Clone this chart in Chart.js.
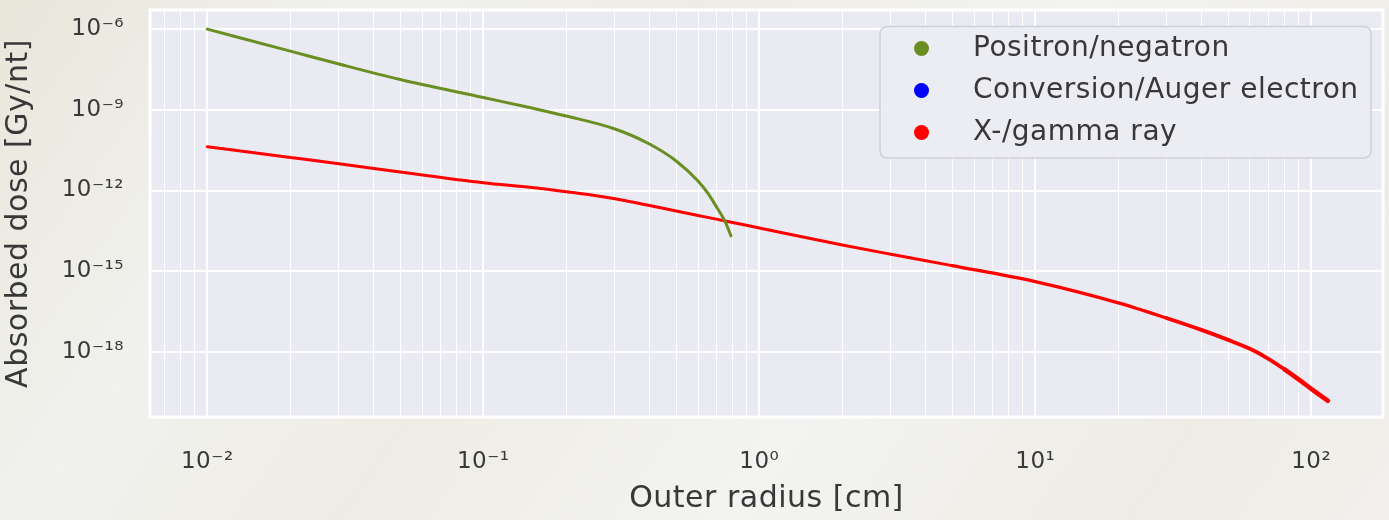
<!DOCTYPE html>
<html>
<head>
<meta charset="utf-8">
<script src="https://cdn.jsdelivr.net/npm/chart.js@4/dist/chart.umd.min.js"></script>
<style>
  html, body { margin: 0; padding: 0; }
  body {
    width: 1389px; height: 520px; overflow: hidden;
    background: linear-gradient(125deg, #e9e6da 0%, #f1f1ee 22%, #eeece4 40%, #f3f3f1 62%, #eeece5 85%, #f1f0ec 100%);
  }
  #wrap { position: relative; width: 1389px; height: 520px; }
</style>
</head>
<body>
<div id="wrap"><canvas id="c" width="1389" height="520"></canvas></div>
<script>
// ---- data ----
const seriesNames = ['Positron/negatron', 'Conversion/Auger electron', 'X-/gamma ray'];
const seriesColors = ['#6b8e23', '#0000ff', '#ff0000'];

const positronRadius = [0.01, 0.02, 0.03, 0.05, 0.1, 0.15, 0.2, 0.3, 0.4, 0.5, 0.6, 0.65, 0.7, 0.75, 0.79];
const positronDose   = [1.0e-6, 1.52e-7, 5.01e-8, 1.33e-8, 2.85e-9, 1.16e-9, 5.86e-10, 1.93e-10, 5.34e-11, 1.25e-11, 2.25e-12, 8.09e-13, 2.44e-13, 7.38e-14, 2.05e-14];

const conversionRadius = [];
const conversionDose   = [];

const gammaRadius = [0.01, 0.02, 0.03, 0.05, 0.1, 0.15, 0.2, 0.25, 0.3, 0.35, 0.4, 0.5, 0.6, 0.8, 1, 2, 3, 5, 10, 20, 30, 40, 50, 60, 70, 80, 90, 100, 115];
const gammaDose   = [4.25e-11, 1.69e-11, 9.84e-12, 4.88e-12, 1.95e-12, 1.29e-12, 9.03e-13, 6.64e-13, 4.92e-13, 3.65e-13, 2.75e-13, 1.73e-13, 1.18e-13, 6.49e-14, 4.05e-14, 9.46e-15, 4.27e-15, 1.61e-15, 4.1e-16, 6.64e-17, 1.79e-17, 6.6e-18, 2.8e-18, 1.3e-18, 5.51e-19, 2.24e-19, 9.54e-20, 4.24e-20, 1.52e-20];

const xTickExponents = [-2, -1, 0, 1, 2];
const yTickExponents = [-6, -9, -12, -15, -18];
const xLabel = 'Outer radius [cm]';
const yLabel = 'Absorbed dose [Gy/nt]';

// ---- helpers ----
const SUP = {'-': '\u207b', '0': '\u2070', '1': '\u00b9', '2': '\u00b2', '3': '\u00b3', '4': '\u2074', '5': '\u2075', '6': '\u2076', '7': '\u2077', '8': '\u2078', '9': '\u2079'};
function powLabel(e) { return '10' + String(e).split('').map(c => SUP[c]).join(''); }
function toXY(xs, ys) { return xs.map((x, i) => ({x: x, y: ys[i]})); }

const FONT = "'DejaVu Sans', sans-serif";
const TEXT = '#383838';

const bgPlugin = {
  id: 'bgPlugin',
  beforeInit(chart) { chart.ctx.letterSpacing = '0.5px'; },
  beforeDraw(chart) {
    const {ctx, chartArea: a} = chart;
    ctx.letterSpacing = '0.5px';
    ctx.save();
    ctx.fillStyle = '#eaeaf2';
    ctx.fillRect(a.left, a.top, a.right - a.left, a.bottom - a.top);
    ctx.restore();
  },
  afterDraw(chart) {
    const {ctx, chartArea: a} = chart;
    ctx.save();
    ctx.strokeStyle = '#ffffff';
    ctx.lineWidth = 3;
    ctx.strokeRect(a.left, a.top, a.right - a.left, a.bottom - a.top);
    // legend
    const bx = 880, by = 26.5, bw = 491, bh = 131.5, r = 7;
    ctx.beginPath();
    ctx.roundRect(bx, by, bw, bh, r);
    ctx.fillStyle = 'rgba(236,236,243,0.93)';
    ctx.fill();
    ctx.lineWidth = 1.5;
    ctx.strokeStyle = '#cfcfd6';
    ctx.stroke();
    ctx.font = '28px ' + FONT;
    ctx.letterSpacing = '0.5px';
    ctx.textBaseline = 'middle';
    ctx.textAlign = 'left';
    chart.data.datasets.forEach((ds, i) => {
      const cy = 48.5 + i * 42;
      ctx.beginPath();
      ctx.arc(921.5, cy, 7.5, 0, Math.PI * 2);
      ctx.fillStyle = ds.borderColor;
      ctx.fill();
      ctx.fillStyle = TEXT;
      ctx.fillText(ds.label, 973, cy);
    });
    ctx.restore();
  }
};

const xTicksAll = [];
for (let n = -3; n <= 2; n++) for (let m = 1; m <= 9; m++) xTicksAll.push({m: m, n: n});

new Chart(document.getElementById('c'), {
  type: 'line',
  data: {
    datasets: [
      {label: seriesNames[0], data: toXY(positronRadius, positronDose), borderColor: seriesColors[0], backgroundColor: seriesColors[0]},
      {label: seriesNames[1], data: toXY(conversionRadius, conversionDose), borderColor: seriesColors[1], backgroundColor: seriesColors[1]},
      {label: seriesNames[2], data: toXY(gammaRadius, gammaDose), borderColor: seriesColors[2], backgroundColor: seriesColors[2],
       segment: {borderWidth: c => (c.p0.parsed.x >= 80 ? 4.5 : c.p0.parsed.x >= 30 ? 3.8 : c.p0.parsed.x >= 5 ? 3.4 : 3)}}
    ]
  },
  options: {
    responsive: false,
    animation: false,
    layout: {padding: {top: 10, right: 6, left: 0, bottom: 0}},
    elements: {
      point: {radius: 0, hoverRadius: 0},
      line: {borderWidth: 3, cubicInterpolationMode: 'monotone', borderCapStyle: 'round', borderJoinStyle: 'round'}
    },
    plugins: {legend: {display: false}, tooltip: {enabled: false}},
    scales: {
      x: {
        type: 'logarithmic',
        min: 0.0062, max: 182,
        afterFit(s) { s.height = 103; s.paddingLeft = 0; s.paddingRight = 0; },
        afterBuildTicks(s) {
          s.ticks = xTicksAll
            .map(t => ({value: t.m * Math.pow(10, t.n), major: t.m === 1}))
            .filter(t => t.value >= s.min && t.value <= s.max);
        },
        grid: {
          color: '#ffffff',
          lineWidth: c => (c.tick && c.tick.major ? 2 : 1),
          drawTicks: false
        },
        border: {display: false},
        ticks: {
          autoSkip: false, maxRotation: 0, padding: 31,
          color: TEXT, font: {family: FONT, size: 23},
          callback(v) {
            const e = Math.log10(v);
            return Math.abs(e - Math.round(e)) < 1e-9 ? powLabel(Math.round(e)) : '';
          }
        },
        title: {display: true, text: xLabel, color: TEXT, font: {family: FONT, size: 30}, padding: {top: 0, bottom: 3}}
      },
      y: {
        type: 'logarithmic',
        min: Math.pow(10, -20.42), max: Math.pow(10, -5.29),
        afterFit(s) { s.width = 150; s.paddingTop = 0; s.paddingBottom = 0; },
        afterBuildTicks(s) {
          s.ticks = yTickExponents.map(e => ({value: Math.pow(10, e), major: true}));
        },
        grid: {color: '#ffffff', lineWidth: 2, drawTicks: false},
        border: {display: false},
        ticks: {
          autoSkip: false, padding: 26,
          color: TEXT, font: {family: FONT, size: 23},
          callback(v) { return powLabel(Math.round(Math.log10(v))); }
        },
        title: {display: true, text: yLabel, color: TEXT, font: {family: FONT, size: 30}, padding: {top: 1, bottom: 0}}
      }
    }
  },
  plugins: [bgPlugin]
});
</script>
</body>
</html>
